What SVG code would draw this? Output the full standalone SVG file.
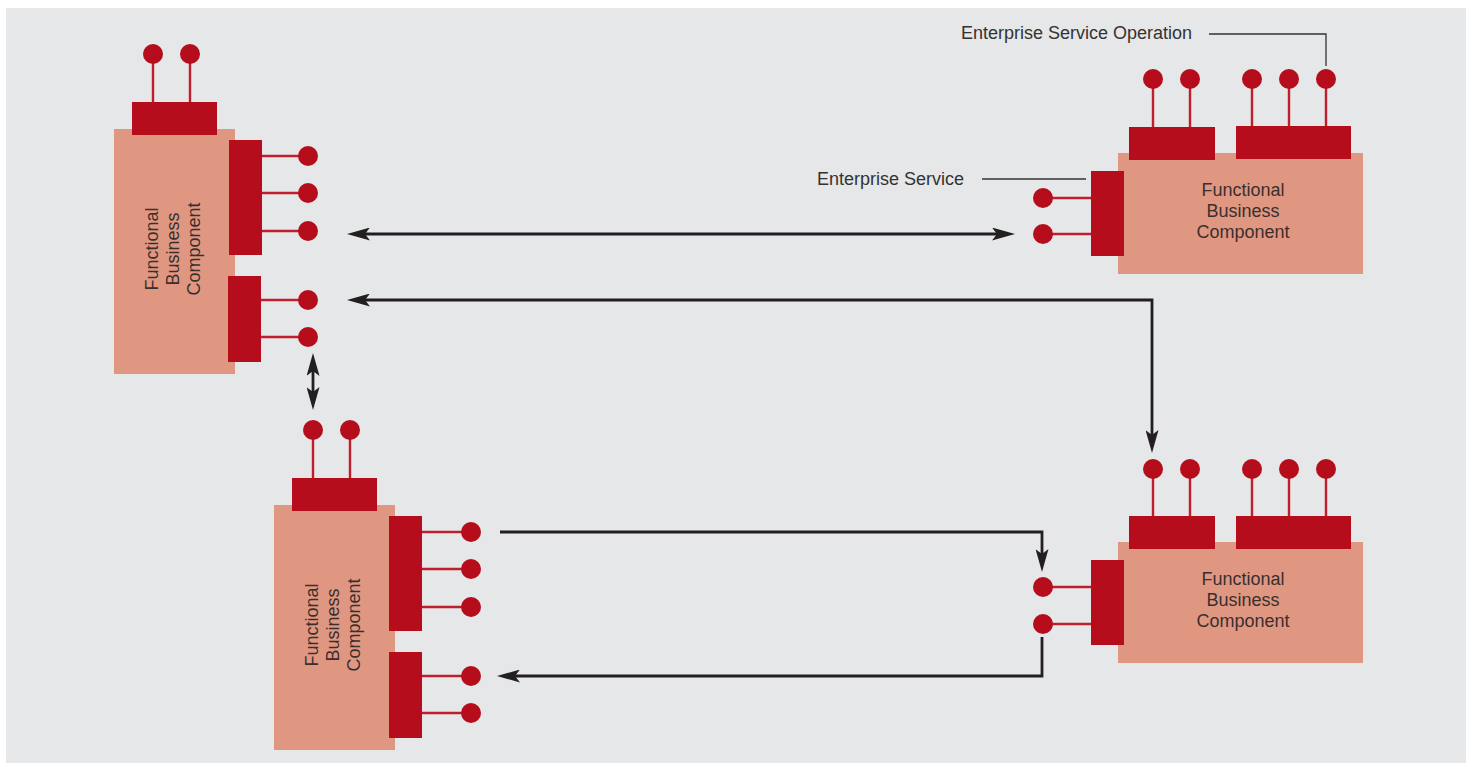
<svg xmlns="http://www.w3.org/2000/svg" width="1472" height="767" viewBox="0 0 1472 767">
  <defs>
    <style>
      .bg { fill: #e6e7e9; }
      .body { fill: #e09782; }
      .port { fill: #b50d1b; }
      .op { fill: #b50d1b; }
      .stem { stroke: #bf1e2c; stroke-width: 2.4; fill: none; }
      .lbl { font-family: "Liberation Sans", Arial, sans-serif; font-size: 18px; fill: #333333; }
      .name { font-family: "Liberation Sans", Arial, sans-serif; font-size: 18px; fill: #3a2f2d; text-anchor: middle; }
      .conn { stroke: #231f20; stroke-width: 2.8; fill: none; }
      .leader { stroke: #333333; stroke-width: 1.3; fill: none; }
    </style>
    <marker id="arrow" viewBox="0 0 23 13" markerWidth="23" markerHeight="13" refX="12" refY="6.5" markerUnits="userSpaceOnUse" orient="auto-start-reverse">
      <path d="M0,0 L23,6.5 L0,13 L5,6.5 Z" fill="#231f20"/>
    </marker>
  </defs>

  <rect class="bg" x="6" y="8" width="1460" height="755"/>

  <!-- Top-left component -->
  <g id="fbc-top-left">
    <rect class="body" x="114" y="129" width="121" height="245"/>
    <path class="stem" d="M153,54 V102 M190,54 V102"/>
    <rect class="port" x="132" y="102" width="85" height="33"/>
    <circle class="op" cx="153" cy="54" r="10"/>
    <circle class="op" cx="190" cy="54" r="10"/>
    <path class="stem" d="M262,156 H308 M262,193 H308 M262,231 H308 M261,300 H308 M261,337 H308"/>
    <rect class="port" x="229" y="140" width="33" height="115"/>
    <rect class="port" x="228" y="276" width="33" height="86"/>
    <circle class="op" cx="308" cy="156" r="10"/>
    <circle class="op" cx="308" cy="193" r="10"/>
    <circle class="op" cx="308" cy="231" r="10"/>
    <circle class="op" cx="308" cy="300" r="10"/>
    <circle class="op" cx="308" cy="337" r="10"/>
    <g transform="translate(179,249) rotate(-90)">
      <text class="name" x="0" y="-21">Functional</text>
      <text class="name" x="0" y="0">Business</text>
      <text class="name" x="0" y="21">Component</text>
    </g>
  </g>

  <!-- Bottom-left component -->
  <g id="fbc-bottom-left">
    <rect class="body" x="274" y="505" width="121" height="245"/>
    <path class="stem" d="M313,430 V478 M350,430 V478"/>
    <rect class="port" x="292" y="478" width="85" height="33"/>
    <circle class="op" cx="313" cy="430" r="10"/>
    <circle class="op" cx="350" cy="430" r="10"/>
    <path class="stem" d="M422,532 H471 M422,569 H471 M422,607 H471 M422,676 H471 M422,713 H471"/>
    <rect class="port" x="389" y="516" width="33" height="115"/>
    <rect class="port" x="389" y="652" width="33" height="86"/>
    <circle class="op" cx="471" cy="532" r="10"/>
    <circle class="op" cx="471" cy="569" r="10"/>
    <circle class="op" cx="471" cy="607" r="10"/>
    <circle class="op" cx="471" cy="676" r="10"/>
    <circle class="op" cx="471" cy="713" r="10"/>
    <g transform="translate(339,625) rotate(-90)">
      <text class="name" x="0" y="-21">Functional</text>
      <text class="name" x="0" y="0">Business</text>
      <text class="name" x="0" y="21">Component</text>
    </g>
  </g>

  <!-- Top-right component -->
  <g id="fbc-top-right">
    <rect class="body" x="1118" y="153" width="245" height="121"/>
    <path class="stem" d="M1153,79 V127 M1190,79 V127 M1252,79 V127 M1289,79 V127 M1326,79 V127"/>
    <rect class="port" x="1129" y="127" width="86" height="33"/>
    <rect class="port" x="1236" y="126" width="115" height="33"/>
    <circle class="op" cx="1153" cy="79" r="10"/>
    <circle class="op" cx="1190" cy="79" r="10"/>
    <circle class="op" cx="1252" cy="79" r="10"/>
    <circle class="op" cx="1289" cy="79" r="10"/>
    <circle class="op" cx="1326" cy="79" r="10"/>
    <path class="stem" d="M1043,198 H1091 M1043,234 H1091"/>
    <rect class="port" x="1091" y="171" width="33" height="85"/>
    <circle class="op" cx="1043" cy="198" r="10"/>
    <circle class="op" cx="1043" cy="234" r="10"/>
    <text class="name" x="1243" y="196">Functional</text>
    <text class="name" x="1243" y="217">Business</text>
    <text class="name" x="1243" y="238">Component</text>
  </g>

  <!-- Bottom-right component -->
  <g id="fbc-bottom-right">
    <rect class="body" x="1118" y="542" width="245" height="121"/>
    <path class="stem" d="M1153,469 V516 M1190,469 V516 M1252,469 V516 M1289,469 V516 M1326,469 V516"/>
    <rect class="port" x="1129" y="516" width="86" height="33"/>
    <rect class="port" x="1236" y="516" width="115" height="33"/>
    <circle class="op" cx="1153" cy="469" r="10"/>
    <circle class="op" cx="1190" cy="469" r="10"/>
    <circle class="op" cx="1252" cy="469" r="10"/>
    <circle class="op" cx="1289" cy="469" r="10"/>
    <circle class="op" cx="1326" cy="469" r="10"/>
    <path class="stem" d="M1043,587 H1091 M1043,624 H1091"/>
    <rect class="port" x="1091" y="560" width="33" height="85"/>
    <circle class="op" cx="1043" cy="587" r="10"/>
    <circle class="op" cx="1043" cy="624" r="10"/>
    <text class="name" x="1243" y="585">Functional</text>
    <text class="name" x="1243" y="606">Business</text>
    <text class="name" x="1243" y="627">Component</text>
  </g>

  <!-- Labels -->
  <g id="labels">
    <text class="lbl" x="961" y="39">Enterprise Service Operation</text>
    <path class="leader" d="M1209,34 H1326 V66"/>
    <text class="lbl" x="817" y="185">Enterprise Service</text>
    <path class="leader" d="M982,179 H1086"/>
  </g>

  <!-- Connectors -->
  <g id="connectors">
    <path class="conn" d="M358,234 H1004" marker-start="url(#arrow)" marker-end="url(#arrow)"/>
    <path class="conn" d="M358,300 H1152 V442" marker-start="url(#arrow)" marker-end="url(#arrow)"/>
    <path class="conn" d="M313,364 V399" marker-start="url(#arrow)" marker-end="url(#arrow)"/>
    <path class="conn" d="M500,532 H1042 V561" marker-end="url(#arrow)"/>
    <path class="conn" d="M1042,637 V676 H508" marker-end="url(#arrow)"/>
  </g>
</svg>
